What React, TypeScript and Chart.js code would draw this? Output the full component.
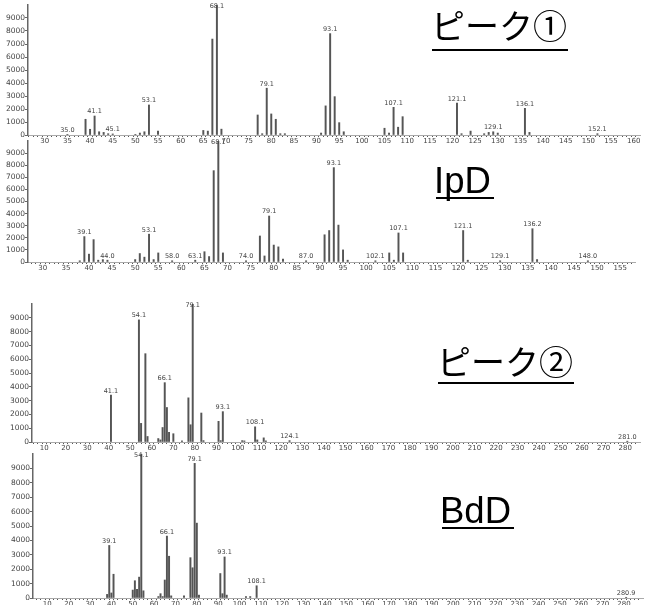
import React, { useEffect, useRef } from "react";
import { Chart, registerables } from "chart.js";

Chart.register(...registerables);

// ---------- Data: ピーク① ----------
const P1_MZ = [35, 39, 40, 41, 42, 43, 44, 45, 50, 51, 52, 53, 55, 65, 66, 67, 68, 69, 77, 78, 79, 80, 81, 82, 83, 91, 92, 93, 94, 95, 96, 105, 106, 107, 108, 109, 121, 122, 124, 127, 128, 129, 130, 136, 137, 152];
const P1_INT = [50, 1210, 440, 1460, 250, 200, 100, 80, 50, 150, 250, 2310, 300, 350, 300, 7380, 10000, 450, 1540, 100, 3600, 1620, 1210, 100, 100, 150, 2240, 7800, 2950, 950, 250, 520, 150, 2130, 600, 1410, 2450, 100, 300, 100, 200, 250, 150, 2050, 200, 100];
const P1_LABEL_MZ = [35, 41, 45, 53, 68, 79, 93, 107, 121, 129, 136, 152];
const P1_LABEL_TEXT = ["35.0", "41.1", "45.1", "53.1", "68.1", "79.1", "93.1", "107.1", "121.1", "129.1", "136.1", "152.1"];

// ---------- Data: IpD ----------
const P2_MZ = [38, 39, 40, 41, 42, 43, 44, 50, 51, 52, 53, 54, 55, 58, 63, 65, 66, 67, 68, 69, 74, 77, 78, 79, 80, 81, 82, 87, 91, 92, 93, 94, 95, 96, 102, 105, 106, 107, 108, 121, 122, 129, 136, 137, 148];
const P2_INT = [100, 2100, 650, 1850, 150, 200, 150, 200, 700, 400, 2300, 200, 750, 100, 150, 850, 450, 7550, 10000, 750, 100, 2150, 500, 3800, 1400, 1250, 250, 100, 2250, 2600, 7800, 3050, 1000, 150, 100, 750, 150, 2400, 750, 2600, 150, 100, 2750, 200, 100];
const P2_LABEL_MZ = [39, 44, 53, 58, 63, 68, 74, 79, 87, 93, 102, 107, 121, 129, 136, 148];
const P2_LABEL_TEXT = ["39.1", "44.0", "53.1", "58.0", "63.1", "68.1", "74.0", "79.1", "87.0", "93.1", "102.1", "107.1", "121.1", "129.1", "136.2", "148.0"];

// ---------- Data: ピーク② ----------
const P3_MZ = [41, 54, 55, 57, 58, 63, 64, 65, 66, 67, 68, 70, 74, 77, 78, 79, 83, 84, 91, 92, 93, 102, 103, 108, 109, 112, 113, 124, 281];
const P3_INT = [3400, 8850, 1350, 6400, 400, 250, 150, 1050, 4300, 2500, 700, 600, 80, 3200, 1250, 10000, 2100, 100, 1500, 100, 2200, 100, 80, 1100, 150, 300, 80, 100, 60];
const P3_LABEL_MZ = [41, 54, 66, 79, 93, 108, 124, 281];
const P3_LABEL_TEXT = ["41.1", "54.1", "66.1", "79.1", "93.1", "108.1", "124.1", "281.0"];

// ---------- Data: BdD ----------
const P4_MZ = [38, 39, 40, 41, 50, 51, 52, 53, 54, 55, 62, 63, 64, 65, 66, 67, 68, 74, 77, 78, 79, 80, 81, 91, 92, 93, 94, 103, 105, 108, 281];
const P4_INT = [250, 3650, 350, 1650, 550, 1200, 600, 1450, 10000, 500, 100, 300, 100, 1250, 4300, 2900, 150, 150, 2800, 2100, 9350, 5200, 200, 1700, 300, 2850, 200, 100, 100, 850, 50];
const P4_LABEL_MZ = [39, 54, 66, 79, 93, 108, 281];
const P4_LABEL_TEXT = ["39.1", "54.1", "66.1", "79.1", "93.1", "108.1", "280.9"];

const Y_MAX = 10000;
const Y_STEP = 1000;

type Panel = {
  mz: number[];
  ints: number[];
  labelMz: number[];
  labelText: string[];
  top: number;
  height: number;
  yWidth: number;
  xHeight: number;
  padTop: number;
  padRight: number;
  xMin: number;
  xMax: number;
  step: number;
  labelStep: number;
};

const PANELS: Panel[] = [
  { mz: P1_MZ, ints: P1_INT, labelMz: P1_LABEL_MZ, labelText: P1_LABEL_TEXT, top: 0, height: 146, yWidth: 28, xHeight: 11, padTop: 5, padRight: 6, xMin: 26.3, xMax: 161.4, step: 1, labelStep: 5 },
  { mz: P2_MZ, ints: P2_INT, labelMz: P2_LABEL_MZ, labelText: P2_LABEL_TEXT, top: 136, height: 136, yWidth: 28, xHeight: 10, padTop: 5, padRight: 11, xMin: 26.8, xMax: 158.2, step: 1, labelStep: 5 },
  { mz: P3_MZ, ints: P3_INT, labelMz: P3_LABEL_MZ, labelText: P3_LABEL_TEXT, top: 299, height: 153, yWidth: 32, xHeight: 10, padTop: 5, padRight: 6, xMin: 4.3, xMax: 286.9, step: 2, labelStep: 10 },
  { mz: P4_MZ, ints: P4_INT, labelMz: P4_LABEL_MZ, labelText: P4_LABEL_TEXT, top: 449, height: 156, yWidth: 33, xHeight: 7, padTop: 5, padRight: 3, xMin: 3.3, xMax: 288.9, step: 2, labelStep: 10 },
];

function makeLabelPlugin(p: Panel) {
  return {
    id: "peakLabels",
    afterDatasetsDraw(chart: any) {
      const { ctx, chartArea, scales } = chart;
      const x = scales.x;
      const y = scales.y;
      ctx.save();
      ctx.font = '6.5px "DejaVu Sans"';
      ctx.fillStyle = "#444";
      ctx.textAlign = "center";
      ctx.textBaseline = "bottom";
      p.labelMz.forEach((m, k) => {
        const i = p.mz.indexOf(m);
        const v = i >= 0 ? p.ints[i] : 0;
        const px = x.getPixelForValue(m);
        let py = y.getPixelForValue(v) - 1;
        py = Math.max(py, chartArea.top + 5);
        ctx.fillText(p.labelText[k], px, py);
      });
      ctx.restore();
    },
  };
}

function SpectrumPanel({ p }: { p: Panel }) {
  const ref = useRef<HTMLCanvasElement | null>(null);
  useEffect(() => {
    if (!ref.current) return;
    const chart = new Chart(ref.current, {
      type: "bar",
      data: {
        datasets: [
          {
            data: p.mz.map((m, i) => ({ x: m, y: p.ints[i] })),
            backgroundColor: "#555",
            borderWidth: 0,
            barThickness: 1.3,
          } as any,
        ],
      },
      options: {
        animation: false,
        responsive: false,
        events: [],
        layout: { padding: { top: p.padTop, right: p.padRight, left: 0, bottom: 0 } },
        plugins: { legend: { display: false }, tooltip: { enabled: false }, title: { display: false } },
        scales: {
          x: {
            type: "linear",
            min: p.xMin,
            max: p.xMax,
            offset: false,
            afterFit: (s: any) => {
              s.height = p.xHeight;
            },
            border: { color: "#aaa", width: 1 },
            grid: { drawOnChartArea: false, tickLength: 2, color: "#555", lineWidth: 1 },
            ticks: {
              stepSize: p.step,
              autoSkip: false,
              maxRotation: 0,
              minRotation: 0,
              includeBounds: false,
              padding: 0,
              color: "#444",
              font: { family: "DejaVu Sans", size: 7 },
              callback: (v: any) => {
                const n = Math.round(Number(v));
                return Math.abs(Number(v) - n) < 1e-6 && n % p.labelStep === 0 ? String(n) : "";
              },
            },
          },
          y: {
            type: "linear",
            min: 0,
            max: Y_MAX,
            afterFit: (s: any) => {
              s.width = p.yWidth;
            },
            border: { color: "#666", width: 1.5 },
            grid: { drawOnChartArea: false, tickLength: 3, color: "#666" },
            ticks: {
              stepSize: Y_STEP,
              padding: 0,
              color: "#444",
              font: { family: "DejaVu Sans", size: 7.5 },
              callback: (v: any) => (Number(v) >= Y_MAX ? null : String(v)),
            },
          },
        },
      } as any,
      plugins: [makeLabelPlugin(p)],
    });
    return () => chart.destroy();
  }, [p]);
  return (
    <canvas
      ref={ref}
      width={646}
      height={p.height}
      style={{ position: "absolute", left: 0, top: p.top, width: 646, height: p.height }}
    />
  );
}

type Title = { text: string; left: number; top: number; size: number; family: string; ulLeft: number; ulTop: number; ulWidth: number };

const TITLES: Title[] = [
  { text: "ピーク①", left: 431, top: 8, size: 34, family: '"Noto Sans CJK JP"', ulLeft: 432, ulTop: 49, ulWidth: 136 },
  { text: "IpD", left: 434, top: 163, size: 36.5, family: '"Liberation Sans", Arial', ulLeft: 436, ulTop: 197, ulWidth: 58 },
  { text: "ピーク②", left: 437, top: 344, size: 34, family: '"Noto Sans CJK JP"', ulLeft: 438, ulTop: 382, ulWidth: 136 },
  { text: "BdD", left: 440, top: 493, size: 36.5, family: '"Liberation Sans", Arial', ulLeft: 442, ulTop: 527, ulWidth: 72 },
];

export default function App() {
  return (
    <div style={{ position: "absolute", left: 0, top: 0, width: 646, height: 605, background: "#fff", overflow: "hidden" }}>
      {PANELS.map((p, i) => (
        <SpectrumPanel key={i} p={p} />
      ))}
      {TITLES.map((t, i) => (
        <React.Fragment key={i}>
          <div
            style={{
              position: "absolute",
              left: t.left,
              top: t.top,
              fontSize: t.size,
              lineHeight: `${t.size}px`,
              fontFamily: t.family,
              color: "#000",
              whiteSpace: "nowrap",
            }}
          >
            {t.text}
          </div>
          <div style={{ position: "absolute", left: t.ulLeft, top: t.ulTop, width: t.ulWidth, height: 2, background: "#000" }} />
        </React.Fragment>
      ))}
    </div>
  );
}
